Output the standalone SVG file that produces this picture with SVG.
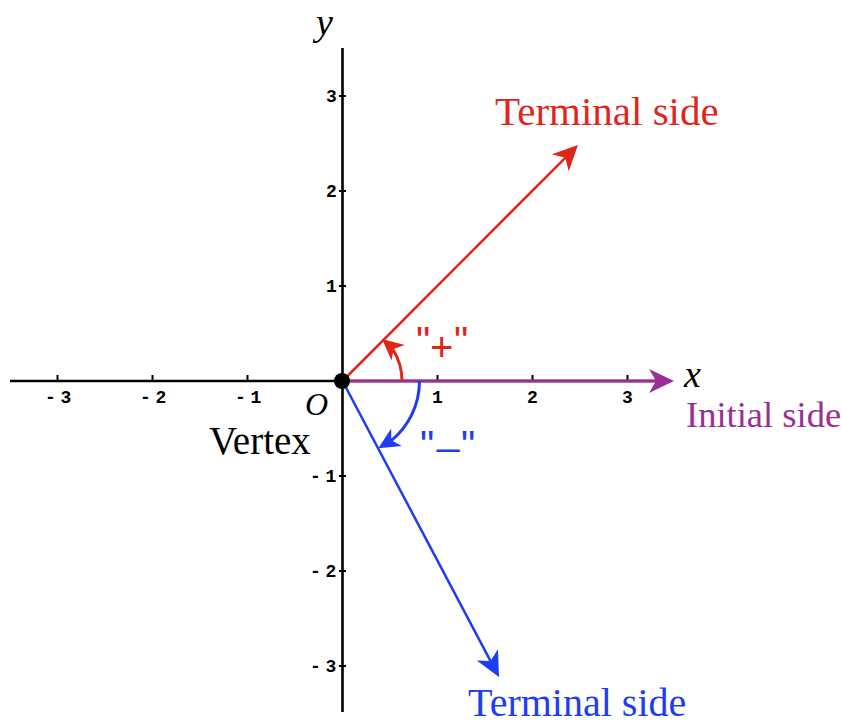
<svg xmlns="http://www.w3.org/2000/svg" xmlns:xlink="http://www.w3.org/1999/xlink" width="842" height="726" viewBox="0 0 842 726">
<style>
.axis{stroke:#000;stroke-width:2.6;fill:none}
.tick{stroke:#000;stroke-width:2}
.tl{font-family:"Liberation Mono","DejaVu Sans Mono",monospace;font-size:18px;font-weight:bold;letter-spacing:-3px;fill:#000}
.serif{font-family:"Liberation Serif","Times New Roman",serif}
.it{font-family:"Liberation Serif","Times New Roman",serif;font-style:italic;fill:#000}
.sans{font-family:"Liberation Sans",Arial,sans-serif;font-size:40px}
.red{fill:#e0261b}
.blue{fill:#1f3cf5}
.purple{fill:#9b2d96}
</style>
<defs>
<path id="ah" d="M0,0 L-25,-12 L-18,0 L-25,12 Z"/>
</defs>
<rect width="842" height="726" fill="#fff"/>
<g id="axes">
<line class="axis" x1="10" y1="381" x2="660" y2="381"/>
<line class="axis" x1="342.5" y1="48" x2="342.5" y2="712"/>
<g id="xticks">
<line class="tick" x1="57.5" y1="375" x2="57.5" y2="382"/>
<line class="tick" x1="152.5" y1="375" x2="152.5" y2="382"/>
<line class="tick" x1="247.5" y1="375" x2="247.5" y2="382"/>
<line class="tick" x1="437.5" y1="375" x2="437.5" y2="382"/>
<line class="tick" x1="532.5" y1="375" x2="532.5" y2="382"/>
<line class="tick" x1="627.5" y1="375" x2="627.5" y2="382"/>
</g>
<g id="yticks">
<line class="tick" x1="339" y1="96" x2="346" y2="96"/>
<line class="tick" x1="339" y1="191" x2="346" y2="191"/>
<line class="tick" x1="339" y1="286" x2="346" y2="286"/>
<line class="tick" x1="339" y1="476" x2="346" y2="476"/>
<line class="tick" x1="339" y1="571" x2="346" y2="571"/>
<line class="tick" x1="339" y1="666" x2="346" y2="666"/>
</g>
<g id="xlabels">
<text class="tl" x="45" y="403">- 3</text>
<text class="tl" x="140" y="403">- 2</text>
<text class="tl" x="235" y="403">- 1</text>
<text class="tl" x="432" y="403">1</text>
<text class="tl" x="527" y="403">2</text>
<text class="tl" x="622" y="403">3</text>
</g>
<g id="ylabels">
<text class="tl" x="326" y="102">3</text>
<text class="tl" x="326" y="197">2</text>
<text class="tl" x="326" y="292">1</text>
<text class="tl" x="310" y="482">- 1</text>
<text class="tl" x="310" y="577">- 2</text>
<text class="tl" x="310" y="672">- 3</text>
</g>
<text class="it" x="316" y="35" font-size="38">y</text>
<text class="it" x="684" y="387" font-size="38">x</text>
<text class="it" x="305" y="415" font-size="32">O</text>
</g>
<g id="connectors">
<line x1="342.5" y1="381" x2="663" y2="381" stroke="#9b2d96" stroke-width="3"/>
<use xlink:href="#ah" href="#ah" class="purple" transform="translate(674,381)"/>
<line x1="342.5" y1="381" x2="566.7" y2="156.3" stroke="#e0261b" stroke-width="2.5"/>
<use xlink:href="#ah" href="#ah" class="red" transform="translate(578,145) rotate(-45)"/>
<line x1="342.5" y1="381" x2="491.5" y2="662.9" stroke="#1f3cf5" stroke-width="2.5"/>
<use xlink:href="#ah" href="#ah" class="blue" transform="translate(499,677) rotate(62.1)"/>
<path d="M402,381 A59.5,59.5 0 0,0 393.0,349.5" fill="none" stroke="#e0261b" stroke-width="3"/>
<use xlink:href="#ah" href="#ah" class="red" transform="translate(382,339) rotate(220.5) scale(0.85)"/>
<path d="M419.5,381 A77,77 0 0,1 391.0,440.8" fill="none" stroke="#1f3cf5" stroke-width="3"/>
<use xlink:href="#ah" href="#ah" class="blue" transform="translate(378.3,448.3) rotate(148.7) scale(0.85)"/>
</g>
<g id="vertex">
<circle cx="342" cy="381" r="8" fill="#000"/>
<text class="serif" x="209" y="454" font-size="39" fill="#000">Vertex</text>
</g>
<g id="initial-side">
<text class="serif purple" x="686" y="427" font-size="36.5">Initial side</text>
</g>
<g id="terminal-side-positive">
<text class="serif red" x="495" y="125" font-size="41">Terminal side</text>
</g>
<g id="terminal-side-negative">
<text class="serif blue" x="468" y="716" font-size="40">Terminal side</text>
</g>
<g id="positive-label">
<text class="sans red"><tspan x="416" y="355">"</tspan><tspan x="430" y="361">+</tspan><tspan x="454" y="355">"</tspan></text>
</g>
<g id="negative-label">
<text class="sans blue"><tspan x="420" y="459">"</tspan><tspan x="437" y="444">_</tspan><tspan x="461" y="459">"</tspan></text>
</g>
</svg>
